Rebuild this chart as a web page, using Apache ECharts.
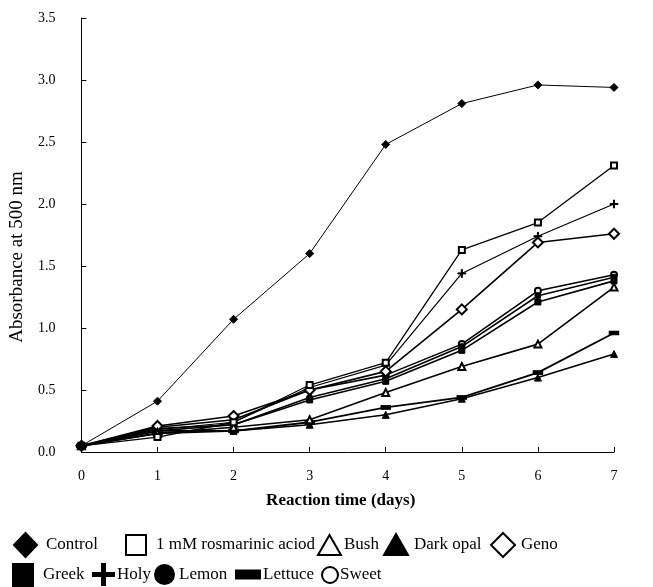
<!DOCTYPE html>
<html>
<head>
<meta charset="utf-8">
<script src="https://cdn.jsdelivr.net/npm/echarts@6/dist/echarts.min.js"></script>
<style>
html,body{margin:0;padding:0;background:#fff;}
#chart{width:653px;height:587px;}
</style>
</head>
<body>
<div id="chart"></div>
<script>
// ---- data ----
const days = [0, 1, 2, 3, 4, 5, 6, 7];
const seriesNames = ['Control', '1 mM rosmarinic aciod', 'Bush', 'Dark opal', 'Geno', 'Greek', 'Holy', 'Lemon', 'Lettuce', 'Sweet'];
const control     = [0.05, 0.41, 1.07, 1.60, 2.48, 2.81, 2.96, 2.94];
const rosmarinic  = [0.05, 0.12, 0.24, 0.54, 0.72, 1.63, 1.85, 2.31];
const bush        = [0.05, 0.15, 0.20, 0.26, 0.48, 0.69, 0.87, 1.33];
const darkOpal    = [0.05, 0.17, 0.17, 0.22, 0.30, 0.43, 0.60, 0.79];
const geno        = [0.05, 0.21, 0.29, 0.50, 0.65, 1.15, 1.69, 1.76];
const greek       = [0.05, 0.17, 0.22, 0.42, 0.57, 0.82, 1.21, 1.38];
const holy        = [0.05, 0.18, 0.24, 0.52, 0.70, 1.44, 1.74, 2.00];
const lemon       = [0.05, 0.19, 0.22, 0.44, 0.59, 0.85, 1.26, 1.41];
const lettuce     = [0.05, 0.15, 0.17, 0.24, 0.36, 0.44, 0.64, 0.96];
const sweet       = [0.05, 0.20, 0.26, 0.50, 0.62, 0.87, 1.30, 1.43];
const xTickLabels = ['0', '1', '2', '3', '4', '5', '6', '7'];
const yTickLabels = ['0.0', '0.5', '1.0', '1.5', '2.0', '2.5', '3.0', '3.5'];
const xTitle = 'Reaction time (days)';
const yTitle = 'Absorbance at 500 nm';

// ---- styling ----
const FONT = '"Liberation Serif", "Times New Roman", serif';
const valuesList = [control, rosmarinic, bush, darkOpal, geno, greek, holy, lemon, lettuce, sweet];
const crossSmall = 'path://M4,0h1.2v9.2h-1.2z M0,4h9.2v1.2h-9.2z';
const crossBig = 'path://M9,0h3v21h-3z M0,9h21v3h-21z';
const markerStyle = [
  {symbol: 'diamond', size: 8, lw: 1},
  {symbol: 'emptyRect', size: 6, lw: 1.3},
  {symbol: 'emptyTriangle', size: 7, lw: 1.6},
  {symbol: 'triangle', size: 7, lw: 1.6},
  {symbol: 'emptyDiamond', size: 10, lw: 1.6},
  {symbol: 'rect', size: 6, lw: 1.6},
  {symbol: crossSmall, size: 8, lw: 1.2},
  {symbol: 'circle', size: 6, lw: 1.6},
  {symbol: 'rect', size: [9, 4], lw: 1.8},
  {symbol: 'emptyCircle', size: 6, lw: 1.6}
];
// legend placement: [left, top, iconW, iconH, icon, textPadLeft]
const legendLayout = [
  [13, 532, 23, 24, 'diamond', 4],
  [125, 534, 20, 20, 'emptyRect', 5],
  [317, 534, 23, 20, 'emptyTriangle', -2],
  [383, 533, 24, 21, 'triangle', 1],
  [490, 532, 24, 24, 'emptyDiamond', 1],
  [12, 563, 20, 22, 'rect', 5],
  [92, 563, 21, 21, crossBig, -2],
  [154, 564, 19, 20, 'circle', 0],
  [235, 566, 24, 8, 'rect', -2],
  [321, 566, 16, 16, 'emptyCircle', -3]
];

const series = seriesNames.map((name, i) => ({
  name: name,
  type: 'line',
  data: days.map((d, j) => [d, valuesList[i][j]]),
  symbol: markerStyle[i].symbol,
  symbolSize: markerStyle[i].size,
  symbolKeepAspect: false,
  showSymbol: true,
  lineStyle: {color: '#000', width: markerStyle[i].lw},
  itemStyle: {color: '#000', borderColor: '#000', borderWidth: 1},
  emphasis: {disabled: true},
  animation: false,
  z: 10 - i
}));

const legends = seriesNames.map((name, i) => {
  const L = legendLayout[i];
  return {
    left: L[0], top: L[1],
    itemWidth: L[2], itemHeight: L[3],
    itemGap: 0, padding: 0,
    selectedMode: false,
    icon: L[4],
    data: [{name: name, icon: L[4]}],
    textStyle: {fontFamily: FONT, fontSize: 17, color: '#000', padding: [0, 0, 0, L[5]]}
  };
});

const chart = echarts.init(document.getElementById('chart'), null, {renderer: 'canvas'});
chart.setOption({
  backgroundColor: '#fff',
  animation: false,
  legend: legends,
  grid: {left: 80, right: 39, top: 18, bottom: 135, containLabel: false},
  xAxis: {
    type: 'value', min: 0, max: 7, interval: 1,
    name: xTitle, nameLocation: 'middle', nameGap: 40,
    nameTextStyle: {fontFamily: FONT, fontSize: 17, fontWeight: 'bold', color: '#000', padding: [0, 14, 0, 0]},
    axisLine: {show: true, onZero: false, lineStyle: {color: '#000', width: 1}},
    axisTick: {show: true, inside: true, length: 5, lineStyle: {color: '#000'}},
    axisLabel: {fontFamily: FONT, fontSize: 14, color: '#000', margin: 17,
      formatter: v => xTickLabels[Math.round(v)]},
    splitLine: {show: false}
  },
  yAxis: {
    type: 'value', min: 0, max: 3.5, interval: 0.5,
    name: yTitle, nameLocation: 'middle', nameGap: 46,
    nameTextStyle: {fontFamily: FONT, fontSize: 19, color: '#000', padding: [0, 44, 0, 0]},
    axisLine: {show: true, lineStyle: {color: '#000', width: 1}},
    axisTick: {show: true, inside: true, length: 5, lineStyle: {color: '#000'}},
    axisLabel: {fontFamily: FONT, fontSize: 14, color: '#000', margin: 26,
      formatter: v => yTickLabels[Math.round(v * 2)]},
    splitLine: {show: false}
  },
  series: series
});
</script>
</body>
</html>
